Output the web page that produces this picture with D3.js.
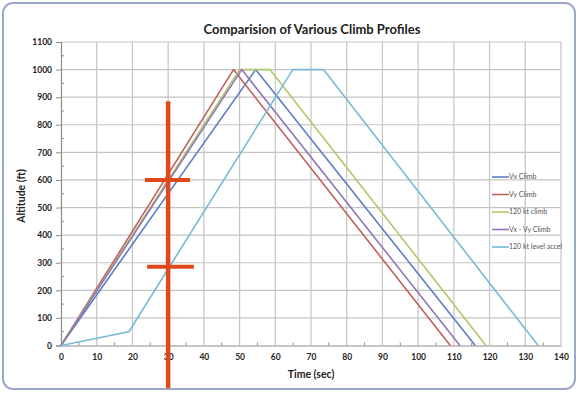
<!DOCTYPE html>
<html>
<head>
<meta charset="utf-8">
<script src="https://cdn.jsdelivr.net/npm/d3@7"></script>
<style>
  body { margin: 0; background: #fff; }
  text { font-family: Lato, "Open Sans", sans-serif; }
</style>
</head>
<body>
<div id="container"></div>
<script>
// series data: [time (sec), altitude (ft)]
const vxClimb = [[0, 0], [54.5, 1000], [116, 0]];
const vyClimb = [[0, 0], [48.3, 1000], [109, 0]];
const kt120Climb = [[0, 0], [50, 1000], [58.5, 1000], [119, 0]];
const vxVyClimb = [[0, 0], [50.6, 1000], [111.7, 0]];
const kt120LevelAccel = [[0, 0], [19, 50], [64.9, 1000], [73.5, 1000], [133.6, 0]];

const seriesNames = ["Vx Climb", "Vy Climb", "120 kt climb", "Vx - Vy Climb", "120 kt level accel"];
const seriesData = [vxClimb, vyClimb, kt120Climb, vxVyClimb, kt120LevelAccel];
const seriesColors = ["#5a7fc6", "#c0605a", "#b2c76a", "#9078b8", "#79b9d6"];

const xTicks = d3.range(0, 141, 10);
const yTicks = d3.range(0, 1101, 100);

// hand drawn red marks over the chart
const markVertical = [[30, 885], [30, -155]];
const markBars = [[[23.5, 600], [36.1, 600]], [[24.1, 285], [37.2, 285]]];

const w = 581, h = 395;

const x = d3.scaleLinear().domain([0, 140]).range([61, 561]);
const y = d3.scaleLinear().domain([0, 1100]).range([345.5, 42]);

const svg = d3.select("#container").append("svg")
  .attr("width", w).attr("height", h);

// window frame
svg.append("rect")
  .attr("x", 3).attr("y", 3).attr("width", 572).attr("height", 386)
  .attr("rx", 10)
  .attr("fill", "#fff").attr("stroke", "#9aa8cc").attr("stroke-width", 2);

// grid
svg.append("g").selectAll("line").data(xTicks.slice(1)).join("line")
  .attr("x1", d => x(d)).attr("x2", d => x(d))
  .attr("y1", y(1100)).attr("y2", y(0))
  .attr("stroke", "#c4c4c4").attr("stroke-width", 1.2);
svg.append("g").selectAll("line").data(yTicks.slice(1)).join("line")
  .attr("x1", x(0)).attr("x2", x(140))
  .attr("y1", d => y(d)).attr("y2", d => y(d))
  .attr("stroke", "#c4c4c4").attr("stroke-width", 1.2);

// axes
const xAxis = svg.append("g")
  .attr("transform", "translate(0," + y(0) + ")")
  .call(d3.axisBottom(x).tickValues(xTicks).tickFormat(d3.format("d")).tickSize(0).tickPadding(8));
const yAxis = svg.append("g")
  .attr("transform", "translate(" + x(0) + ",0)")
  .call(d3.axisLeft(y).tickValues(yTicks).tickFormat(d3.format("d")).tickSize(5).tickPadding(4));
[xAxis, yAxis].forEach(g => {
  g.select(".domain").attr("stroke", "#8c8c8c").attr("stroke-width", 1.2);
  g.selectAll(".tick line").attr("stroke", "#8c8c8c");
  g.selectAll(".tick text")
    .attr("fill", "#222").style("font-size", "8.5px").style("font-weight", "bold")
    .style("font-family", "Lato, sans-serif");
});

// minor ticks
svg.append("g").selectAll("line").data(d3.range(5, 140, 10)).join("line")
  .attr("x1", d => x(d)).attr("x2", d => x(d))
  .attr("y1", y(0)).attr("y2", y(0) - 3)
  .attr("stroke", "#8c8c8c");
svg.append("g").selectAll("line").data(d3.range(50, 1100, 100)).join("line")
  .attr("x1", x(0)).attr("x2", x(0) + 3)
  .attr("y1", d => y(d)).attr("y2", d => y(d))
  .attr("stroke", "#8c8c8c");

// lines
const line = d3.line().x(d => x(d[0])).y(d => y(d[1]));
svg.append("g").selectAll("path").data(seriesData).join("path")
  .attr("d", line)
  .attr("fill", "none")
  .attr("stroke", (d, i) => seriesColors[i])
  .attr("stroke-width", 1.6)
  .attr("stroke-linejoin", "round");

// legend
const legend = svg.append("g").selectAll("g").data(seriesNames).join("g")
  .attr("transform", (d, i) => "translate(492," + (177 + i * 17.5) + ")");
legend.append("line")
  .attr("x1", 0).attr("x2", 17)
  .attr("stroke", (d, i) => seriesColors[i]).attr("stroke-width", 1.6);
legend.append("text")
  .attr("x", 17).attr("dy", "0.35em")
  .attr("fill", "#555").style("font-size", "7px")
  .text(d => d);

// title
svg.append("text")
  .attr("x", 312).attr("y", 34)
  .attr("text-anchor", "middle")
  .style("font-size", "13px").style("font-weight", "bold")
  .attr("fill", "#222")
  .text("Comparision of Various Climb Profiles");

// axis titles
svg.append("text")
  .attr("x", 311).attr("y", 378)
  .attr("text-anchor", "middle")
  .style("font-size", "10.5px").style("font-weight", "bold")
  .attr("fill", "#222")
  .text("Time (sec)");
svg.append("text")
  .attr("transform", "translate(25,196)rotate(-90)")
  .attr("text-anchor", "middle")
  .style("font-size", "10.5px").style("font-weight", "bold")
  .attr("fill", "#222")
  .text("Altitude (ft)");

// red annotation marks
const marks = svg.append("g")
  .attr("stroke", "#e0481a").attr("stroke-width", 4.5).attr("fill", "none");
marks.append("path").attr("d", line(markVertical));
marks.selectAll(".bar").data(markBars).join("path")
  .attr("class", "bar").attr("stroke-width", 4).attr("d", line);
</script>
</body>
</html>
